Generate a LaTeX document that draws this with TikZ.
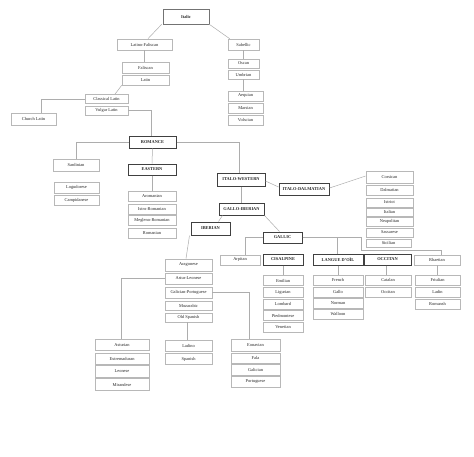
\documentclass[tikz,border=0pt]{standalone}
\usepackage{fontspec}
\setmainfont{Liberation Serif}

\begin{document}
\begin{tikzpicture}[
  x=1pt, y=-1pt,
  every node/.style={font=\fontsize{4.4}{5}\selectfont, text=black!85, inner sep=0pt},
  lang/.style={draw=black!28, line width=0.7pt, fill=white, minimum height=10pt},
  branch/.style={draw=black!75, line width=1pt, fill=white, minimum height=11pt,
    font=\fontsize{4.4}{5}\selectfont\bfseries},
  link/.style={draw=black!32, line width=0.5pt}
]
  \useasboundingbox[fill=white] (0,0) rectangle (474,456);

  % top of the tree
  \node[branch, draw=black!55, line width=0.7pt, minimum width=46pt, minimum height=15pt] (italic) at (186,16.5) {Italic};
  \node[lang, minimum width=55pt, minimum height=11pt] (latfal) at (144.5,44.5) {Latino-Faliscan};
  \node[lang, minimum width=31pt, minimum height=11pt] (sabellic) at (243.5,44.5) {Sabellic};
  \node[lang, minimum width=47pt, minimum height=11pt] (faliscan) at (145.5,67.5) {Faliscan};
  \node[lang, minimum width=47pt] (latin) at (145.5,80) {Latin};
  \node[lang, minimum width=43pt, minimum height=9pt] (classical) at (106.5,99) {Classical Latin};
  \node[lang, minimum width=43pt, minimum height=9pt] (vulgar) at (106.5,110.5) {Vulgar Latin};
  \node[lang, minimum width=45pt, minimum height=12pt] (church) at (33.5,119) {Church Latin};
  \node[lang, minimum width=31pt, minimum height=9pt] (oscan) at (243.5,63.5) {Oscan};
  \node[lang, minimum width=31pt, minimum height=9pt] (umbrian) at (243.5,74.5) {Umbrian};
  \foreach \name/\y/\txt in {aequian/96/Aequian, marsian/108/Marsian, volscian/120/Volscian}
    \node[lang, minimum width=35pt] (\name) at (245.5,\y) {\txt};

  % Romance
  \node[branch, minimum width=47pt, minimum height=12pt] (romance) at (152.5,142) {ROMANCE};
  \node[lang, minimum width=46pt, minimum height=12pt] (sardinian) at (76,165) {Sardinian};
  \node[lang, minimum width=45pt, minimum height=11pt] (logudorese) at (76.5,187.5) {Logudorese};
  \node[lang, minimum width=45pt] (campidanese) at (76.5,200) {Campidanese};
  \node[branch, minimum width=48pt] (eastern) at (152,169.5) {EASTERN};
  \foreach \name/\y/\txt in {aromanian/196/Aromanian, istro/209/Istro-Romanian,
      megleno/220/Megleno-Romanian, romanian/233/Romanian}
    \node[lang, minimum width=48pt] (\name) at (152,\y) {\txt};

  \node[branch, minimum width=48pt, minimum height=13pt] (italowest) at (241,179.5) {ITALO-WESTERN};
  \node[branch, minimum width=50pt, minimum height=12pt] (italodalm) at (304,189) {ITALO-DALMATIAN};
  \node[lang, minimum width=47pt, minimum height=12pt] (corsican) at (389.5,177) {Corsican};
  \foreach \name/\y/\h/\txt in {dalmatian/190/10/Dalmatian, istriot/202.5/9/Istriot,
      italian/212/8/Italian, neapolitan/221.5/9/Neapolitan, sassarese/232.5/9/Sassarese}
    \node[lang, minimum width=47pt, minimum height=\h pt] (\name) at (389.5,\y) {\txt};
  \node[lang, minimum width=45pt, minimum height=8pt] (sicilian) at (388.5,243) {Sicilian};

  \node[branch, minimum width=45pt, minimum height=12pt] (galloib) at (241.5,209) {GALLO-IBERIAN};
  \node[branch, minimum width=39pt, minimum height=13pt] (iberian) at (210.5,228.5) {IBERIAN};
  \node[branch, minimum width=39pt] (gallic) at (282.5,237.5) {GALLIC};

  % Gallic row
  \node[lang, minimum width=40pt] (arpitan) at (240,260) {Arpitan};
  \node[branch, minimum width=40pt] (cisalpine) at (283,259.5) {CISALPINE};
  \node[branch, minimum width=50pt] (langue) at (338,259.5) {LANGUE D'OÏL};
  \node[branch, minimum width=47pt] (occitanb) at (387.5,259.5) {OCCITAN};
  \node[lang, minimum width=46pt] (rhaetian) at (437,260) {Rhaetian};
  \foreach \name/\y/\txt in {emilian/280.5/Emilian, ligurian/292.5/Ligurian, lombard/304/Lombard,
      piedmontese/315.5/Piedmontese, venetian/327/Venetian}
    \node[lang, minimum width=40pt] (\name) at (283,\y) {\txt};
  \foreach \name/\y/\txt in {french/280/French, gallo/292/Gallo, norman/303/Norman, walloon/314/Walloon}
    \node[lang, minimum width=50pt] (\name) at (338,\y) {\txt};
  \foreach \name/\y/\txt in {catalan/280/Catalan, occitan/292/Occitan}
    \node[lang, minimum width=46pt] (\name) at (388,\y) {\txt};
  \foreach \name/\y/\txt in {friulian/280/Friulian, ladin/292/Ladin, romansh/304/Romansh}
    \node[lang, minimum width=45pt] (\name) at (437.5,\y) {\txt};

  % Iberian
  \foreach \name/\y/\h/\txt in {aragonese/265/12/Aragonese, asturleonese/278.5/11/Astur-Leonese,
      galport/292.5/11/Galician-Portuguese, mozarabic/305.5/9/Mozarabic, oldspanish/317.5/9/Old Spanish}
    \node[lang, minimum width=47pt, minimum height=\h pt] (\name) at (188.5,\y) {\txt};
  \foreach \name/\y/\txt in {asturian/345/Asturian, extremaduran/359/Extremaduran,
      leonese/371.5/Leonese, mirandese/384.5/Mirandese}
    \node[lang, minimum width=54pt, minimum height=11.5pt] (\name) at (122,\y) {\txt};
  \node[lang, minimum width=47pt, minimum height=11pt] (ladino) at (188.5,345.5) {Ladino};
  \node[lang, minimum width=47pt, minimum height=11pt] (spanish) at (188.5,359) {Spanish};
  \foreach \name/\y/\h/\txt in {eonavian/345/12/Eonavian, fala/358/10/Fala,
      galician/369.5/11/Galician, portuguese/381.5/11/Portuguese}
    \node[lang, minimum width=49pt, minimum height=\h pt] (\name) at (255.5,\y) {\txt};

  \coordinate (gbend) at (361,250);

  \path[link]
    ([xshift=-1pt]italic.south west) edge ([xshift=3.5pt]latfal.north)
    (italic.south east) edge ([xshift=2pt]sabellic.north west)
    (latfal.south) edge (latfal.south |- faliscan.north)
    (latin.south west) edge ([xshift=8.5pt]classical.north)
    (sabellic.south) edge (sabellic.south |- oscan.north)
    (umbrian.south) edge (umbrian.south |- aequian.north)
    (romance.south) edge (eastern.north)
    (eastern.south) edge (aromanian.north)
    (italowest.south) edge (italowest.south |- galloib.north)
    ([yshift=-1.5pt]italowest.east) edge ([yshift=2pt]italodalm.west)
    ([yshift=1pt]italodalm.east) edge ([yshift=1pt]corsican.west)
    ([xshift=4pt]galloib.south west) edge ([xshift=-12pt]iberian.north east)
    (galloib.south east) edge ([xshift=-3pt]gallic.north)
    (cisalpine.south) edge (cisalpine.south |- emilian.north)
    (langue.south) edge (french.north)
    ([xshift=-1.5pt]occitanb.south) edge ([xshift=-1.5pt]occitanb.south |- catalan.north)
    (rhaetian.south) edge (rhaetian.south |- friulian.north)
    ([xshift=-1pt]iberian.south west) edge ([xshift=-2.5pt]aragonese.north)
    ([xshift=-1.5pt]oldspanish.south) edge ([xshift=-1.5pt]oldspanish.south |- ladino.north);

  \draw[link] (classical.west) -| ([xshift=7.5pt]church.north);
  \draw[link] (vulgar.east) -| ([xshift=-1.5pt]romance.north);
  \draw[link] (romance.west) -| (sardinian.north);
  \draw[link] (romance.east) -| ([xshift=-2pt]italowest.north);
  \draw[link] (gallic.west) -| ([xshift=5pt]arpitan.north);
  \draw[link] (gallic.east) -| ([xshift=-1pt]langue.north);
  \draw[link] (gallic.east) -| (gbend) -| ([xshift=4pt]rhaetian.north);
  \draw[link] (asturleonese.west) -| ([xshift=-1pt]asturian.north);
  \draw[link] (galport.east) -| ([xshift=-6.5pt]eonavian.north);
\end{tikzpicture}
\end{document}
